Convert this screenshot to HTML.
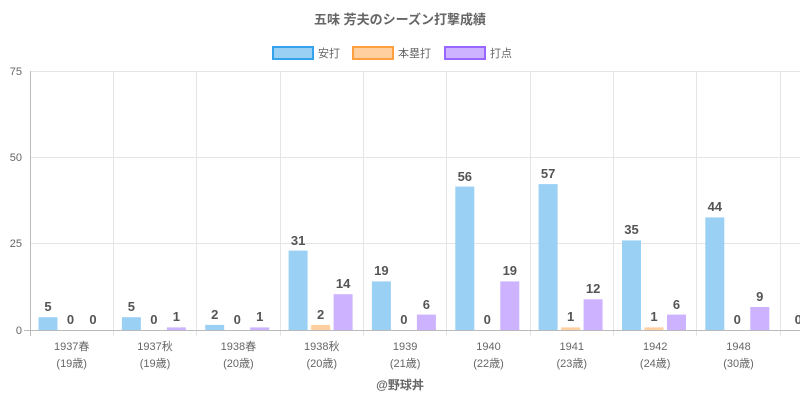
<!DOCTYPE html>
<html><head><meta charset="utf-8"><style>
body{margin:0;background:#fff;}
svg{display:block;font-family:"Liberation Sans","Noto Sans CJK JP",sans-serif;}
</style></head><body>
<svg width="800" height="400" xmlns="http://www.w3.org/2000/svg">
<text x="400" y="24" text-anchor="middle" font-size="13" font-weight="bold" fill="#666">五味 芳夫のシーズン打撃成績</text>
<g font-size="11" fill="#666">
<rect x="273" y="47" width="40" height="12" fill="#9bd0f5" stroke="#36a2eb" stroke-width="2"/>
<text x="318" y="57">安打</text>
<rect x="353" y="47" width="40" height="12" fill="#ffcf9f" stroke="#ff9f40" stroke-width="2"/>
<text x="398" y="57">本塁打</text>
<rect x="445" y="47" width="40" height="12" fill="#ccb2ff" stroke="#9966ff" stroke-width="2"/>
<text x="490" y="57">打点</text>
</g>
<g stroke="#e5e5e5" stroke-width="1">
<line x1="30" y1="71.5" x2="800" y2="71.5"/>
<line x1="30" y1="157.5" x2="800" y2="157.5"/>
<line x1="30" y1="243.5" x2="800" y2="243.5"/>
<line x1="113.5" y1="71" x2="113.5" y2="336"/>
<line x1="196.5" y1="71" x2="196.5" y2="336"/>
<line x1="280.5" y1="71" x2="280.5" y2="336"/>
<line x1="363.5" y1="71" x2="363.5" y2="336"/>
<line x1="446.5" y1="71" x2="446.5" y2="336"/>
<line x1="530.5" y1="71" x2="530.5" y2="336"/>
<line x1="613.5" y1="71" x2="613.5" y2="336"/>
<line x1="696.5" y1="71" x2="696.5" y2="336"/>
<line x1="780.5" y1="71" x2="780.5" y2="336"/>
</g>
<line x1="30.5" y1="71" x2="30.5" y2="336" stroke="#bbb"/>
<line x1="24" y1="330.5" x2="800" y2="330.5" stroke="#bbb"/>
<g font-size="11" fill="#666" text-anchor="end">
<text x="22" y="75">75</text><text x="22" y="161">50</text><text x="22" y="247">25</text><text x="22" y="334">0</text>
</g>
<g fill="#9bd0f5">
<rect x="38.5" y="317.2" width="19" height="12.8"/>
<rect x="121.9" y="317.2" width="19" height="12.8"/>
<rect x="205.2" y="324.9" width="19" height="5.1"/>
<rect x="288.6" y="250.6" width="19" height="79.4"/>
<rect x="371.9" y="281.4" width="19" height="48.6"/>
<rect x="455.3" y="186.6" width="19" height="143.4"/>
<rect x="538.6" y="184.1" width="19" height="145.9"/>
<rect x="622" y="240.4" width="19" height="89.6"/>
<rect x="705.3" y="217.4" width="19" height="112.6"/>
</g>
<g fill="#ffcf9f">
<rect x="311.1" y="324.9" width="19" height="5.1"/>
<rect x="561.1" y="327.4" width="19" height="2.6"/>
<rect x="644.5" y="327.4" width="19" height="2.6"/>
</g>
<g fill="#ccb2ff">
<rect x="166.9" y="327.4" width="19" height="2.6"/>
<rect x="250.2" y="327.4" width="19" height="2.6"/>
<rect x="333.6" y="294.2" width="19" height="35.8"/>
<rect x="416.9" y="314.6" width="19" height="15.4"/>
<rect x="500.3" y="281.4" width="19" height="48.6"/>
<rect x="583.6" y="299.3" width="19" height="30.7"/>
<rect x="667" y="314.6" width="19" height="15.4"/>
<rect x="750.3" y="307" width="19" height="23"/>
</g>
<g font-size="13" font-weight="bold" fill="#555" text-anchor="middle">
<text x="48" y="311">5</text><text x="70.5" y="324">0</text><text x="93" y="324">0</text>
<text x="131.4" y="311">5</text><text x="153.9" y="324">0</text><text x="176.4" y="321">1</text>
<text x="214.7" y="319">2</text><text x="237.2" y="324">0</text><text x="259.7" y="321">1</text>
<text x="298.1" y="245">31</text><text x="320.6" y="319">2</text><text x="343.1" y="288">14</text>
<text x="381.4" y="275">19</text><text x="403.9" y="324">0</text><text x="426.4" y="309">6</text>
<text x="464.8" y="181">56</text><text x="487.3" y="324">0</text><text x="509.8" y="275">19</text>
<text x="548.1" y="178">57</text><text x="570.6" y="321">1</text><text x="593.1" y="293">12</text>
<text x="631.5" y="234">35</text><text x="654" y="321">1</text><text x="676.5" y="309">6</text>
<text x="714.8" y="211">44</text><text x="737.3" y="324">0</text><text x="759.8" y="301">9</text>
<text x="798.2" y="324">0</text>
</g>
<g font-size="11" fill="#666" text-anchor="middle">
<text x="71.7" y="350">1937春</text><text x="71.7" y="367">(19歳)</text>
<text x="155" y="350">1937秋</text><text x="155" y="367">(19歳)</text>
<text x="238.4" y="350">1938春</text><text x="238.4" y="367">(20歳)</text>
<text x="321.8" y="350">1938秋</text><text x="321.8" y="367">(20歳)</text>
<text x="405.1" y="350">1939</text><text x="405.1" y="367">(21歳)</text>
<text x="488.5" y="350">1940</text><text x="488.5" y="367">(22歳)</text>
<text x="571.8" y="350">1941</text><text x="571.8" y="367">(23歳)</text>
<text x="655.2" y="350">1942</text><text x="655.2" y="367">(24歳)</text>
<text x="738.5" y="350">1948</text><text x="738.5" y="367">(30歳)</text>
</g>
<text x="400" y="389" text-anchor="middle" font-size="12" font-weight="bold" fill="#666">@野球丼</text>
</svg>
</body></html>
